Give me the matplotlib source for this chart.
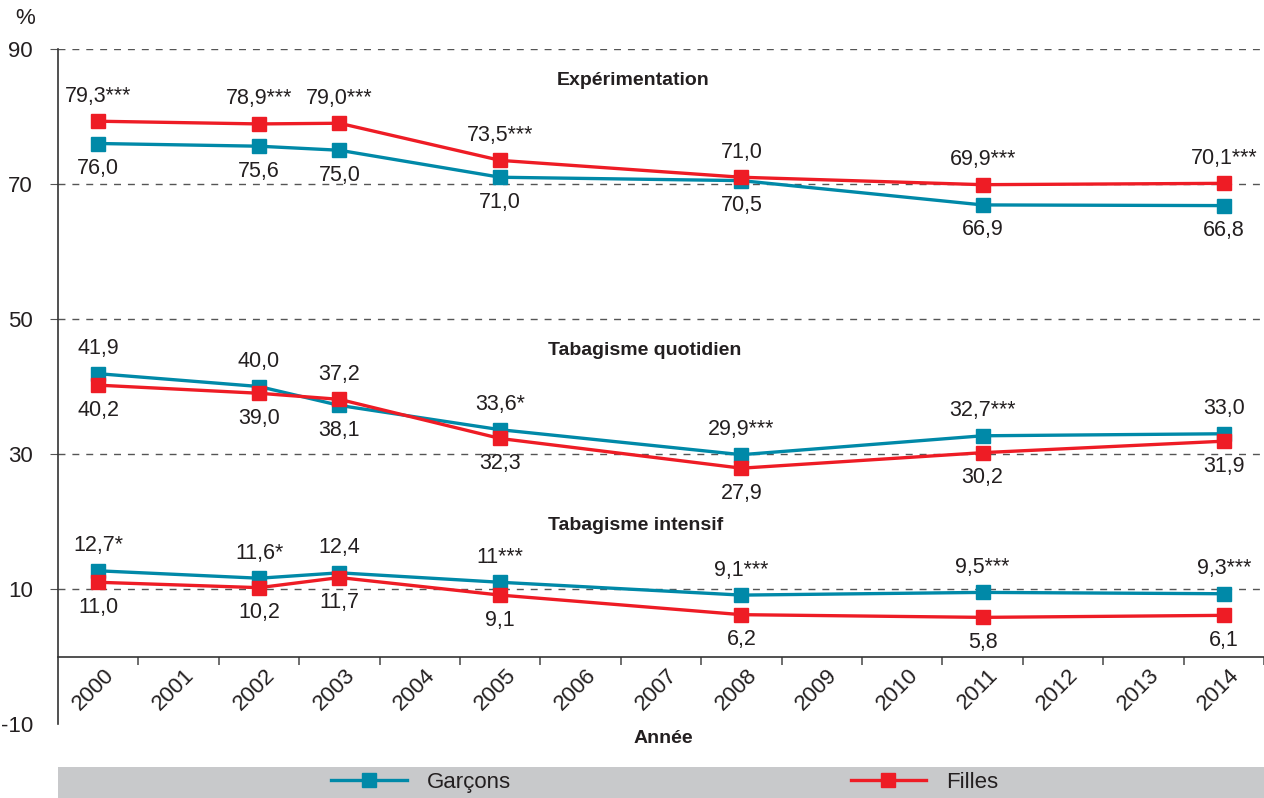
import matplotlib
matplotlib.use("Agg")
import matplotlib.pyplot as plt
import matplotlib.transforms as mtransforms
from matplotlib.lines import Line2D
from matplotlib.patches import Rectangle

plt.rcParams['font.family'] = ['Liberation Sans Narrow', 'Liberation Sans', 'DejaVu Sans']

# data
years = [2000, 2002, 2003, 2005, 2008, 2011, 2014]
all_years = list(range(2000, 2015))

exp_garcons = [76.0, 75.6, 75.0, 71.0, 70.5, 66.9, 66.8]
exp_filles = [79.3, 78.9, 79.0, 73.5, 71.0, 69.9, 70.1]
quot_garcons = [41.9, 40.0, 37.2, 33.6, 29.9, 32.7, 33.0]
quot_filles = [40.2, 39.0, 38.1, 32.3, 27.9, 30.2, 31.9]
int_garcons = [12.7, 11.6, 12.4, 11.0, 9.1, 9.5, 9.3]
int_filles = [11.0, 10.2, 11.7, 9.1, 6.2, 5.8, 6.1]

exp_garcons_lbl = ["76,0", "75,6", "75,0", "71,0", "70,5", "66,9", "66,8"]
exp_filles_lbl = ["79,3***", "78,9***", "79,0***", "73,5***", "71,0", "69,9***", "70,1***"]
quot_garcons_lbl = ["41,9", "40,0", "37,2", "33,6*", "29,9***", "32,7***", "33,0"]
quot_filles_lbl = ["40,2", "39,0", "38,1", "32,3", "27,9", "30,2", "31,9"]
int_garcons_lbl = ["12,7*", "11,6*", "12,4", "11***", "9,1***", "9,5***", "9,3***"]
int_filles_lbl = ["11,0", "10,2", "11,7", "9,1", "6,2", "5,8", "6,1"]

BLUE = "#0089a8"
RED = "#ee1c25"
TXT = "#231f20"

fig = plt.figure(figsize=(12.64, 7.98), dpi=100)
ax = fig.add_axes([0.0459, 0.0927, 0.9541, 0.8459])

sections = [
    (exp_garcons, exp_filles, exp_filles_lbl, exp_garcons_lbl),
    (quot_garcons, quot_filles, quot_garcons_lbl, quot_filles_lbl),
    (int_garcons, int_filles, int_garcons_lbl, int_filles_lbl),
]

for g, f, top_lbl, bot_lbl in sections:
    ax.plot(years, g, color=BLUE, lw=2.4, marker='s', ms=9.5, zorder=3)
    ax.plot(years, f, color=RED, lw=2.4, marker='s', ms=9.5, zorder=4)
    for x, a, b, tl, bl in zip(years, g, f, top_lbl, bot_lbl):
        hi, lo = max(a, b), min(a, b)
        ax.annotate(tl, (x, hi), xytext=(0, 18), textcoords='offset points',
                    ha='center', va='center', fontsize=15.5, color=TXT)
        ax.annotate(bl, (x, lo), xytext=(0, -18), textcoords='offset points',
                    ha='center', va='center', fontsize=15.5, color=TXT)

# section titles
ax.text(2005.7, 85.3, "Expérimentation", fontsize=14, fontweight='bold', color=TXT, va='center')
ax.text(2005.6, 45.4, "Tabagisme quotidien", fontsize=14, fontweight='bold', color=TXT, va='center')
ax.text(2005.6, 19.4, "Tabagisme intensif", fontsize=14, fontweight='bold', color=TXT, va='center')

# grid
for yv in [10, 30, 50, 70, 90]:
    ax.axhline(yv, color='#555555', lw=1, ls=(0, (5, 5)), zorder=1)

ax.set_xlim(1999.5, 2014.45)
ax.set_ylim(-10, 90)
ax.spines['top'].set_visible(False)
ax.spines['right'].set_visible(False)
ax.spines['bottom'].set_position(('data', 0))
ax.spines['left'].set_color('#333333')
ax.spines['bottom'].set_color('#333333')
ax.spines['left'].set_linewidth(1.2)
ax.spines['bottom'].set_linewidth(1.2)

ax.set_yticks([-10, 10, 30, 50, 70, 90])
ax.set_yticklabels(["-10", "10", "30", "50", "70", "90"], fontsize=16, color=TXT)
ax.tick_params(axis='y', length=6, color='#555555', pad=12)
ax.yaxis.get_major_ticks()[0].tick1line.set_visible(False)

ax.set_xticks(all_years)
ax.set_xticklabels([str(y) for y in all_years], rotation=45, ha='center', fontsize=16, color=TXT)
ax.set_xticks([y + 0.5 for y in all_years], minor=True)
ax.tick_params(axis='x', which='major', length=0, pad=6)
ax.tick_params(axis='x', which='minor', length=6, color='#555555', width=1.2)
shift = mtransforms.ScaledTranslation(-5 / 100, 0, fig.dpi_scale_trans)
for lbl in ax.get_xticklabels():
    lbl.set_transform(lbl.get_transform() + shift)

fig.text(0.02, 0.977, "%", fontsize=16, color=TXT, ha='center', va='center')
fig.text(0.5245, 0.075, "Année", fontsize=14, fontweight='bold', color=TXT, ha='center', va='center')

# legend bar
fig.patches.append(Rectangle((0.0459, 0), 0.9541, 0.039, transform=fig.transFigure,
                             facecolor='#c8c9cb', edgecolor='none', zorder=0))
h_g = Line2D([], [], color=BLUE, lw=2.4, marker='s', ms=9.5)
h_f = Line2D([], [], color=RED, lw=2.4, marker='s', ms=9.5)
leg1 = fig.legend([h_g], ["Garçons"], loc='center left', bbox_to_anchor=(0.262, 0.0195),
                  frameon=False, fontsize=16, handlelength=3.4, handletextpad=0.9,
                  borderpad=0, borderaxespad=0)
leg2 = fig.legend([h_f], ["Filles"], loc='center left', bbox_to_anchor=(0.673, 0.0195),
                  frameon=False, fontsize=16, handlelength=3.4, handletextpad=0.9,
                  borderpad=0, borderaxespad=0)
for leg in (leg1, leg2):
    for t in leg.get_texts():
        t.set_color(TXT)

fig.savefig("out.png", dpi=100)
